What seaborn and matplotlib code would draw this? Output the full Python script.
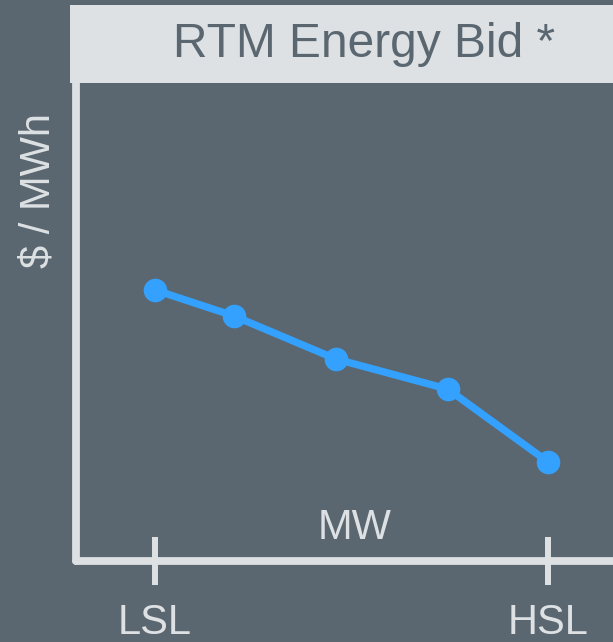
import matplotlib
matplotlib.use("Agg")
import matplotlib.pyplot as plt
import seaborn as sns
import pandas as pd
from matplotlib.patches import Rectangle

# data
mw = [0, 20, 46, 74.5, 100]
price = [56.7, 51.3, 42.3, 36.0, 20.8]
tick_pos = [0, 100]
tick_labels = ["LSL", "HSL"]

bg = "#5b6770"
light = "#dde1e4"
blue = "#33a1fd"

sns.set_style("white")
plt.rcParams["font.family"] = ["Liberation Sans", "DejaVu Sans"]

df = pd.DataFrame({"mw": mw, "price": price})

fig = plt.figure(figsize=(6.13, 6.42), dpi=100)
fig.patch.set_facecolor(bg)
ax = fig.add_axes([0.1232, 0.1254, 0.94, 0.7458])
ax.set_facecolor(bg)

sns.lineplot(data=df, x="mw", y="price", ax=ax, color=blue, linewidth=5.3,
             marker="o", markersize=17, markeredgewidth=0, markeredgecolor=blue)

ax.set_xlim(-20.25, 126.4)
ax.set_ylim(0, 100)
ax.set_xticks(tick_pos)
ax.set_xticklabels(tick_labels)
ax.set_yticks([])
ax.tick_params(axis="x", bottom=True, direction="inout", length=34.5, width=4.3,
               color=light, labelcolor=light, labelsize=30, pad=12.5)

for s in ["top", "right"]:
    ax.spines[s].set_visible(False)
for s in ["left", "bottom"]:
    ax.spines[s].set_color(light)
    ax.spines[s].set_linewidth(5.6)
    ax.spines[s].set_capstyle("round")

ax.set_xlabel("")
ax.set_ylabel("$ / MWh", fontsize=30, color=light, va="center")
ax.yaxis.set_label_coords(-0.065, 0.775)
ax.text(0.485, 0.07, "MW", transform=ax.transAxes, ha="center", va="center",
        fontsize=30, color=light)

# header strip
ax.add_patch(Rectangle((-0.009, 1.0), 1.1, 0.162, transform=ax.transAxes,
                       facecolor=light, edgecolor="none", clip_on=False, zorder=3))
ax.text(0.5, 1.079, "RTM Energy Bid *", transform=ax.transAxes, ha="center",
        va="center", fontsize=34.5, color=bg, zorder=4)

fig.savefig("out.png", dpi=100, facecolor=bg)
